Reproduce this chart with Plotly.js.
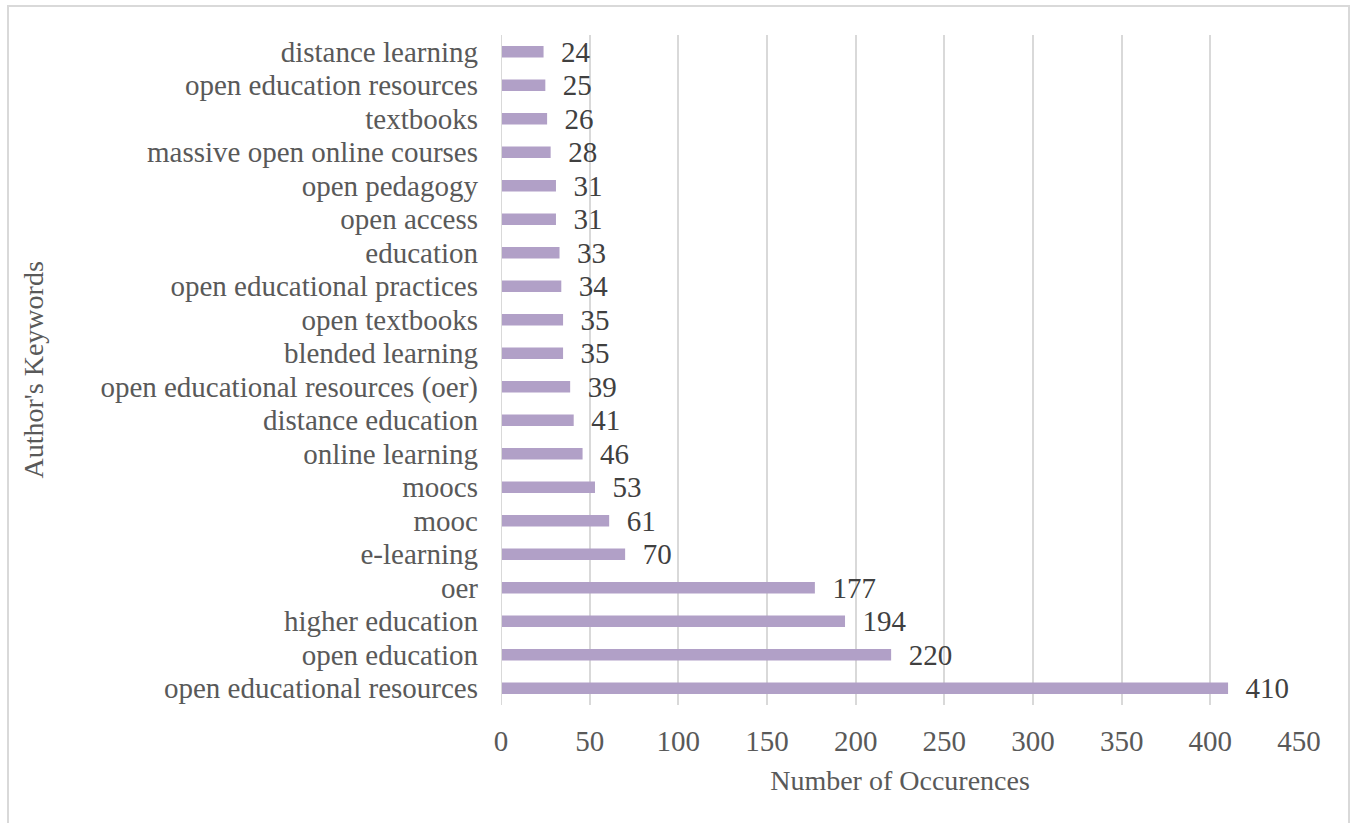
<!DOCTYPE html>
<html><head><meta charset="utf-8">
<script src="https://cdn.plot.ly/plotly-3.0.1.min.js"></script>
<style>
html,body{margin:0;padding:0;background:#fff;}
#wrap{position:relative;width:1353px;height:823px;}
#chart{width:1353px;height:823px;}
#frame{position:absolute;left:7px;top:5px;width:1343px;height:830px;border:2px solid #d9d9d9;box-sizing:border-box;pointer-events:none;}
</style></head>
<body><div id="wrap"><div id="chart"></div><div id="frame"></div></div>
<script>
const keywords = ["open educational resources","open education","higher education","oer","e-learning","mooc","moocs","online learning","distance education","open educational resources (oer)","blended learning","open textbooks","open educational practices","education","open access","open pedagogy","massive open online courses","textbooks","open education resources","distance learning"];
const occurrences = [410,220,194,177,70,61,53,46,41,39,35,35,34,33,31,31,28,26,25,24];
const xTicks = [0,50,100,150,200,250,300,350,400,450];
const yTitle = "Author's Keywords";
const xTitle = "Number of Occurences";

const font = "Liberation Serif, Times New Roman, serif";
Plotly.newPlot('chart', [{
  type:'bar', orientation:'h',
  x: occurrences, y: keywords,
  marker:{color:'#b1a0c7'},
  width:0.34,
  text: occurrences.map(v=>'  '+v),
  textposition:'outside', cliponaxis:false, constraintext:'none',
  textfont:{family:font,size:29,color:'#404040'},
  hoverinfo:'x+y'
}], {
  width:1353, height:823,
  margin:{l:501,r:54,t:35,b:118},
  paper_bgcolor:'#fff', plot_bgcolor:'#fff',
  showlegend:false,
  font:{family:font,color:'#595959'},
  xaxis:{range:[0,450], tickmode:'array', tickvals:xTicks, showgrid:true, gridcolor:'#d9d9d9', gridwidth:2,
    zeroline:false, showline:false, ticks:'', ticklabelstandoff:16,
    tickfont:{family:font,size:29,color:'#595959'},
    title:{text:xTitle, font:{family:font,size:28,color:'#595959'}, standoff:14}},
  yaxis:{type:'category', categoryorder:'array', categoryarray:keywords, range:[-0.5,19.5],
    tickmode:'array', tickvals:keywords, ticktext:keywords,
    showgrid:false, zeroline:false, showline:false, ticks:'', ticklabelstandoff:22,
    tickfont:{family:font,size:29,color:'#595959'}},
  annotations:[{text:yTitle, textangle:-90, xref:'paper', yref:'paper', x:-0.587, y:0.5,
    xanchor:'center', yanchor:'middle', showarrow:false, font:{family:font,size:28,color:'#595959'}}],
  shapes:[{type:'line', xref:'x', yref:'paper', x0:0, x1:0, y0:0, y1:1, line:{color:'#d9d9d9', width:2}}]
}, {displayModeBar:false});
</script></body></html>
